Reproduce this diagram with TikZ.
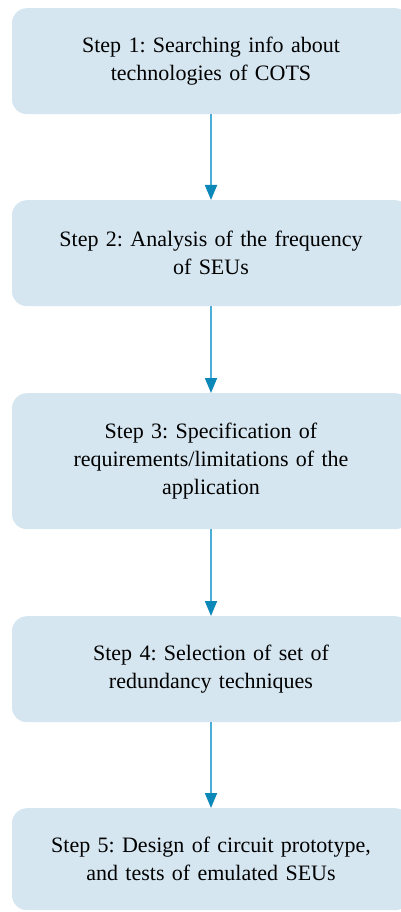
\documentclass[tikz,border=0pt]{standalone}
\usepackage{fontspec}
\setmainfont{Liberation Serif}
\usetikzlibrary{arrows.meta}
\definecolor{boxfill}{HTML}{D5E6F0}
\definecolor{lineblue}{HTML}{4AAED6}
\definecolor{tipblue}{HTML}{0B87B8}
\tikzset{
  stepbox/.style={draw=none, fill=boxfill, rounded corners=15pt, minimum width=398pt, align=center, font=\fontsize{22}{28}\selectfont\frenchspacing, text width=380pt, anchor=north},
  flow/.style={draw=lineblue, line width=1.8pt, -{Triangle[length=15pt,width=12pt,color=tipblue]}, shorten >=0pt}
}
\begin{document}
\begin{tikzpicture}[x=1pt,y=-1pt]
\useasboundingbox (0,0) rectangle (401,912);
\node[stepbox, minimum height=106pt] (s1) at (211,8) {Step 1: Searching info about\\technologies of COTS};
\node[stepbox, minimum height=106pt] (s2) at (211,200) {Step 2: Analysis of the frequency\\of SEUs};
\node[stepbox, minimum height=136pt] (s3) at (211,393) {Step 3: Specification of\\requirements/limitations of the\\application};
\node[stepbox, minimum height=106pt] (s4) at (211,616) {Step 4: Selection of set of\\redundancy techniques};
\node[stepbox, minimum height=102pt] (s5) at (211,808) {Step 5: Design of circuit prototype,\\and tests of emulated SEUs};
\draw[flow] (s1.south) -- (s2.north);
\draw[flow] (s2.south) -- (s3.north);
\draw[flow] (s3.south) -- (s4.north);
\draw[flow] (s4.south) -- (s5.north);
\end{tikzpicture}
\end{document}
